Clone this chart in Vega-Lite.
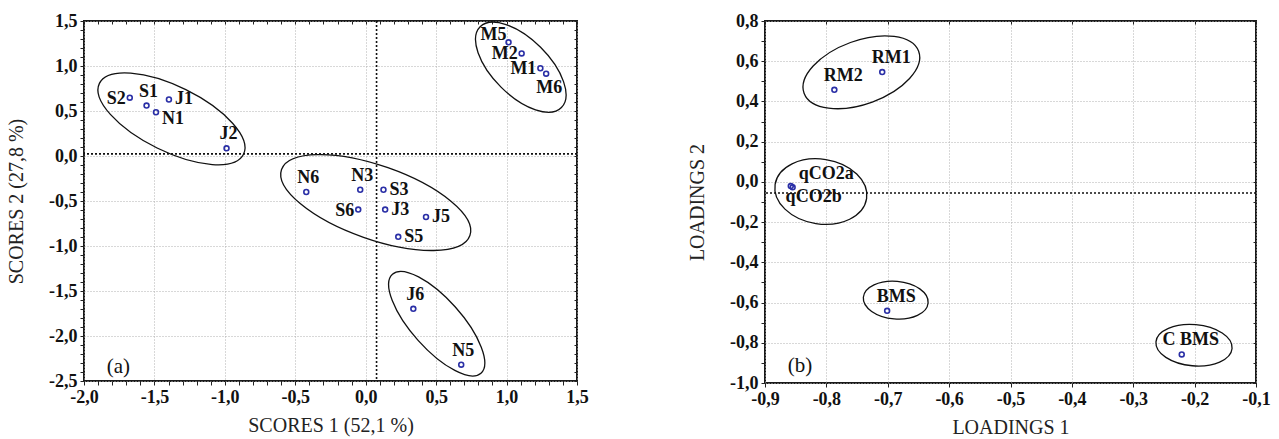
{
  "$schema": "https://vega.github.io/schema/vega-lite/v6.json",
  "padding": {"left": 5, "top": 11, "right": 5, "bottom": 0},
  "spacing": 96,
  "datasets": {
    "scores": [
      {"label": "S2", "x": -1.675, "y": 0.648},
      {"label": "S1", "x": -1.556, "y": 0.560},
      {"label": "J1", "x": -1.397, "y": 0.628},
      {"label": "N1", "x": -1.489, "y": 0.486},
      {"label": "J2", "x": -0.988, "y": 0.085},
      {"label": "M5", "x": 1.014, "y": 1.263},
      {"label": "M2", "x": 1.107, "y": 1.140},
      {"label": "M1", "x": 1.240, "y": 0.975},
      {"label": "M6", "x": 1.281, "y": 0.915},
      {"label": "N6", "x": -0.422, "y": -0.400},
      {"label": "N3", "x": -0.039, "y": -0.375},
      {"label": "S3", "x": 0.126, "y": -0.375},
      {"label": "S6", "x": -0.053, "y": -0.595},
      {"label": "J3", "x": 0.138, "y": -0.595},
      {"label": "J5", "x": 0.428, "y": -0.678},
      {"label": "S5", "x": 0.231, "y": -0.898},
      {"label": "J6", "x": 0.338, "y": -1.698},
      {"label": "N5", "x": 0.678, "y": -2.319}
    ],
    "loadings": [
      {"label": "RM1", "x": -0.709, "y": 0.546},
      {"label": "RM2", "x": -0.787, "y": 0.458},
      {"label": "qCO2a", "x": -0.858, "y": -0.021},
      {"label": "qCO2b", "x": -0.855, "y": -0.027},
      {"label": "BMS", "x": -0.701, "y": -0.641},
      {"label": "C BMS", "x": -0.221, "y": -0.858}
    ]
  },
  "hconcat": [
    {
      "width": 493,
      "height": 360,
      "resolve": {"axis": {"x": "independent", "y": "independent"}},
      "layer": [
        {
          "data": {"values": [{"cx": -1.379, "cy": 0.413}]},
          "mark": {"type": "point", "shape": "M1,0C1,0.224 0.552,0.405 0,0.405C-0.552,0.405 -1,0.224 -1,0C-1,-0.224 -0.552,-0.405 0,-0.405C0.552,-0.405 1,-0.224 1,0Z", "size": 25792, "angle": 26.2, "filled": false, "stroke": "#111", "strokeWidth": 1.3, "opacity": 1},
          "encoding": {"x": {"field": "cx", "type": "quantitative", "axis": null}, "y": {"field": "cy", "type": "quantitative", "axis": null}}
        },
        {
          "data": {"values": [{"cx": 1.101, "cy": 0.987}]},
          "mark": {"type": "point", "shape": "M1,0C1,0.271 0.552,0.49 0,0.49C-0.552,0.49 -1,0.271 -1,0C-1,-0.271 -0.552,-0.49 0,-0.49C0.552,-0.49 1,-0.271 1,0Z", "size": 13133, "angle": 44.8, "filled": false, "stroke": "#111", "strokeWidth": 1.3, "opacity": 1},
          "encoding": {"x": {"field": "cx", "type": "quantitative", "axis": null}, "y": {"field": "cy", "type": "quantitative", "axis": null}}
        },
        {
          "data": {"values": [{"cx": 0.071, "cy": -0.517}]},
          "mark": {"type": "point", "shape": "M1,0C1,0.204 0.552,0.37 0,0.37C-0.552,0.37 -1,0.204 -1,0C-1,-0.204 -0.552,-0.37 0,-0.37C0.552,-0.37 1,-0.204 1,0Z", "size": 39840, "angle": 19.3, "filled": false, "stroke": "#111", "strokeWidth": 1.3, "opacity": 1},
          "encoding": {"x": {"field": "cx", "type": "quantitative", "axis": null}, "y": {"field": "cy", "type": "quantitative", "axis": null}}
        },
        {
          "data": {"values": [{"cx": 0.504, "cy": -1.863}]},
          "mark": {"type": "point", "shape": "M1,0C1,0.208 0.552,0.376 0,0.376C-0.552,0.376 -1,0.208 -1,0C-1,-0.208 -0.552,-0.376 0,-0.376C0.552,-0.376 1,-0.208 1,0Z", "size": 17636, "angle": 48.2, "filled": false, "stroke": "#111", "strokeWidth": 1.3, "opacity": 1},
          "encoding": {"x": {"field": "cx", "type": "quantitative", "axis": null}, "y": {"field": "cy", "type": "quantitative", "axis": null}}
        },
        {
          "data": {"values": [{"xm": 0.077}]},
          "mark": {"type": "rule", "strokeDash": [2, 2], "strokeWidth": 1.6, "color": "#111"},
          "encoding": {"x": {"field": "xm", "type": "quantitative", "axis": {"orient": "top", "values": [-2,-1.9,-1.8,-1.7,-1.6,-1.5,-1.4,-1.3,-1.2,-1.1,-1,-0.9,-0.8,-0.7,-0.6,-0.5,-0.4,-0.3,-0.2,-0.1,0,0.1,0.2,0.3,0.4,0.5,0.6,0.7,0.8,0.9,1,1.1,1.2,1.3,1.4,1.5], "labels": false, "grid": false, "title": null, "tickSize": -3}}}
        },
        {
          "data": {"values": [{"ym": 0.024}]},
          "mark": {"type": "rule", "strokeDash": [2, 2], "strokeWidth": 1.6, "color": "#111"},
          "encoding": {"y": {"field": "ym", "type": "quantitative", "axis": {"orient": "right", "values": [-2.5,-2.4,-2.3,-2.2,-2.1,-2,-1.9,-1.8,-1.7,-1.6,-1.5,-1.4,-1.3,-1.2,-1.1,-1,-0.9,-0.8,-0.7,-0.6,-0.5,-0.4,-0.3,-0.2,-0.1,0,0.1,0.2,0.3,0.4,0.5,0.6,0.7,0.8,0.9,1,1.1,1.2,1.3,1.4,1.5], "labels": false, "grid": false, "title": null, "tickSize": -3}}}
        },
        {
          "data": {"name": "scores"},
          "mark": {"type": "point", "shape": "circle", "filled": false, "size": 24, "strokeWidth": 1.6, "color": "#2a2fa6", "opacity": 1},
          "encoding": {
            "x": {"field": "x", "type": "quantitative", "scale": {"domain": [-2, 1.5], "nice": false, "zero": false},
              "axis": {"orient": "bottom", "title": "SCORES 1 (52,1 %)", "values": [-2,-1.9,-1.8,-1.7,-1.6,-1.5,-1.4,-1.3,-1.2,-1.1,-1,-0.9,-0.8,-0.7,-0.6,-0.5,-0.4,-0.3,-0.2,-0.1,0,0.1,0.2,0.3,0.4,0.5,0.6,0.7,0.8,0.9,1,1.1,1.2,1.3,1.4,1.5],
                "labelExpr": "abs(round(datum.value*10))%5==0 ? replace(replace(format(datum.value,'.1f'),'.',','),'−','-') : ''",
                "grid": true, "gridOpacity": {"condition": {"test": "abs(round(datum.value*10))%5==0", "value": 1}, "value": 0},
                "tickSize": 4, "labelPadding": 3, "titlePadding": 9}},
            "y": {"field": "y", "type": "quantitative", "scale": {"domain": [-2.5, 1.5], "nice": false, "zero": false},
              "axis": {"orient": "left", "title": "SCORES 2 (27,8 %)", "values": [-2.5,-2.4,-2.3,-2.2,-2.1,-2,-1.9,-1.8,-1.7,-1.6,-1.5,-1.4,-1.3,-1.2,-1.1,-1,-0.9,-0.8,-0.7,-0.6,-0.5,-0.4,-0.3,-0.2,-0.1,0,0.1,0.2,0.3,0.4,0.5,0.6,0.7,0.8,0.9,1,1.1,1.2,1.3,1.4,1.5],
                "labelExpr": "abs(round(datum.value*10))%5==0 ? replace(replace(format(datum.value,'.1f'),'.',','),'−','-') : ''",
                "grid": true, "gridOpacity": {"condition": {"test": "abs(round(datum.value*10))%5==0", "value": 1}, "value": 0},
                "tickSize": 4, "labelPadding": 3, "titlePadding": 22}}
          }
        },
        {
          "data": {"name": "scores"},
          "transform": [{"filter": {"field": "label", "oneOf": ["S2", "M2", "M1", "S6"]}}],
          "mark": {"type": "text", "align": "right", "baseline": "middle", "dx": -4, "dy": 1},
          "encoding": {"x": {"field": "x", "type": "quantitative", "axis": null}, "y": {"field": "y", "type": "quantitative", "axis": null}, "text": {"field": "label"}}
        },
        {
          "data": {"name": "scores"},
          "transform": [{"filter": {"field": "label", "oneOf": ["M5"]}}],
          "mark": {"type": "text", "align": "right", "baseline": "middle", "dx": -2, "dy": -7},
          "encoding": {"x": {"field": "x", "type": "quantitative", "axis": null}, "y": {"field": "y", "type": "quantitative", "axis": null}, "text": {"field": "label"}}
        },
        {
          "data": {"name": "scores"},
          "transform": [{"filter": {"field": "label", "oneOf": ["J1", "S3", "J3", "J5", "S5"]}}],
          "mark": {"type": "text", "align": "left", "baseline": "middle", "dx": 6, "dy": 0},
          "encoding": {"x": {"field": "x", "type": "quantitative", "axis": null}, "y": {"field": "y", "type": "quantitative", "axis": null}, "text": {"field": "label"}}
        },
        {
          "data": {"name": "scores"},
          "transform": [{"filter": {"field": "label", "oneOf": ["N1"]}}],
          "mark": {"type": "text", "align": "left", "baseline": "middle", "dx": 6, "dy": 7},
          "encoding": {"x": {"field": "x", "type": "quantitative", "axis": null}, "y": {"field": "y", "type": "quantitative", "axis": null}, "text": {"field": "label"}}
        },
        {
          "data": {"name": "scores"},
          "transform": [{"filter": {"field": "label", "oneOf": ["S1", "J2", "N6", "N3", "J6", "N5"]}}],
          "mark": {"type": "text", "align": "center", "baseline": "middle", "dx": 2, "dy": -14},
          "encoding": {"x": {"field": "x", "type": "quantitative", "axis": null}, "y": {"field": "y", "type": "quantitative", "axis": null}, "text": {"field": "label"}}
        },
        {
          "data": {"name": "scores"},
          "transform": [{"filter": {"field": "label", "oneOf": ["M6"]}}],
          "mark": {"type": "text", "align": "center", "baseline": "middle", "dx": 3, "dy": 14},
          "encoding": {"x": {"field": "x", "type": "quantitative", "axis": null}, "y": {"field": "y", "type": "quantitative", "axis": null}, "text": {"field": "label"}}
        },
        {
          "data": {"values": [{"tag": "(a)", "x": -1.756, "y": -2.34}]},
          "mark": {"type": "text", "align": "center", "baseline": "middle", "fontWeight": "normal", "fontSize": 21},
          "encoding": {"x": {"field": "x", "type": "quantitative", "axis": null}, "y": {"field": "y", "type": "quantitative", "axis": null}, "text": {"field": "tag"}}
        }
      ]
    },
    {
      "width": 491,
      "height": 362,
      "resolve": {"axis": {"x": "independent", "y": "independent"}},
      "layer": [
        {
          "data": {"values": [{"cx": -0.743, "cy": 0.545}]},
          "mark": {"type": "point", "shape": "M1,0C1,0.287 0.552,0.52 0,0.52C-0.552,0.52 -1,0.287 -1,0C-1,-0.287 -0.552,-0.52 0,-0.52C0.552,-0.52 1,-0.287 1,0Z", "size": 14884, "angle": -20.1, "filled": false, "stroke": "#111", "strokeWidth": 1.3, "opacity": 1},
          "encoding": {"x": {"field": "cx", "type": "quantitative", "axis": {"orient": "top", "values": [-0.9,-0.8,-0.7,-0.6,-0.5,-0.4,-0.3,-0.2,-0.1], "labels": false, "grid": false, "title": null, "tickSize": -3}}, "y": {"field": "cy", "type": "quantitative", "axis": null}}
        },
        {
          "data": {"values": [{"cx": -0.809, "cy": -0.048}]},
          "mark": {"type": "point", "shape": "M1,0C1,0.387 0.552,0.7 0,0.7C-0.552,0.7 -1,0.387 -1,0C-1,-0.387 -0.552,-0.7 0,-0.7C0.552,-0.7 1,-0.387 1,0Z", "size": 8575, "angle": 8.9, "filled": false, "stroke": "#111", "strokeWidth": 1.3, "opacity": 1},
          "encoding": {"x": {"field": "cx", "type": "quantitative", "axis": null}, "y": {"field": "cy", "type": "quantitative", "axis": null}}
        },
        {
          "data": {"values": [{"cx": -0.687, "cy": -0.588}]},
          "mark": {"type": "point", "shape": "M1,0C1,0.32 0.552,0.58 0,0.58C-0.552,0.58 -1,0.32 -1,0C-1,-0.32 -0.552,-0.58 0,-0.58C0.552,-0.58 1,-0.32 1,0Z", "size": 4225, "angle": 5, "filled": false, "stroke": "#111", "strokeWidth": 1.3, "opacity": 1},
          "encoding": {"x": {"field": "cx", "type": "quantitative", "axis": null}, "y": {"field": "cy", "type": "quantitative", "axis": null}}
        },
        {
          "data": {"values": [{"cx": -0.201, "cy": -0.812}]},
          "mark": {"type": "point", "shape": "M1,0C1,0.298 0.552,0.54 0,0.54C-0.552,0.54 -1,0.298 -1,0C-1,-0.298 -0.552,-0.54 0,-0.54C0.552,-0.54 1,-0.298 1,0Z", "size": 5837, "angle": 5, "filled": false, "stroke": "#111", "strokeWidth": 1.3, "opacity": 1},
          "encoding": {"x": {"field": "cx", "type": "quantitative", "axis": null}, "y": {"field": "cy", "type": "quantitative", "axis": null}}
        },
        {
          "data": {"values": [{"ym": -0.055}]},
          "mark": {"type": "rule", "strokeDash": [2, 2], "strokeWidth": 1.6, "color": "#111"},
          "encoding": {"y": {"field": "ym", "type": "quantitative", "axis": {"orient": "right", "values": [-1,-0.9,-0.8,-0.7,-0.6,-0.5,-0.4,-0.3,-0.2,-0.1,0,0.1,0.2,0.3,0.4,0.5,0.6,0.7,0.8], "labels": false, "grid": false, "title": null, "tickSize": -3}}}
        },
        {
          "data": {"name": "loadings"},
          "mark": {"type": "point", "shape": "circle", "filled": false, "size": 24, "strokeWidth": 1.6, "color": "#2a2fa6", "opacity": 1},
          "encoding": {
            "x": {"field": "x", "type": "quantitative", "scale": {"domain": [-0.9, -0.1], "nice": false, "zero": false},
              "axis": {"orient": "bottom", "title": "LOADINGS 1", "values": [-0.9,-0.8,-0.7,-0.6,-0.5,-0.4,-0.3,-0.2,-0.1],
                "labelExpr": "replace(replace(format(datum.value,'.1f'),'.',','),'−','-')",
                "grid": true, "tickSize": 4, "labelPadding": 3, "titlePadding": 9}},
            "y": {"field": "y", "type": "quantitative", "scale": {"domain": [-1.0, 0.8], "nice": false, "zero": false},
              "axis": {"orient": "left", "title": "LOADINGS 2", "values": [-1,-0.9,-0.8,-0.7,-0.6,-0.5,-0.4,-0.3,-0.2,-0.1,0,0.1,0.2,0.3,0.4,0.5,0.6,0.7,0.8],
                "labelExpr": "abs(round(datum.value*10))%2==0 ? replace(replace(format(datum.value,'.1f'),'.',','),'−','-') : ''",
                "grid": true, "gridOpacity": {"condition": {"test": "abs(round(datum.value*10))%2==0", "value": 1}, "value": 0},
                "tickSize": 4, "labelPadding": 3, "titlePadding": 22}}
          }
        },
        {
          "data": {"name": "loadings"},
          "transform": [{"filter": {"field": "label", "oneOf": ["RM1", "RM2", "BMS", "C BMS"]}}],
          "mark": {"type": "text", "align": "center", "baseline": "middle", "dx": 9, "dy": -14},
          "encoding": {"x": {"field": "x", "type": "quantitative", "axis": null}, "y": {"field": "y", "type": "quantitative", "axis": null}, "text": {"field": "label"}}
        },
        {
          "data": {"name": "loadings"},
          "transform": [{"filter": {"field": "label", "oneOf": ["qCO2a"]}}],
          "mark": {"type": "text", "align": "left", "baseline": "middle", "dx": 8, "dy": -12},
          "encoding": {"x": {"field": "x", "type": "quantitative", "axis": null}, "y": {"field": "y", "type": "quantitative", "axis": null}, "text": {"field": "label"}}
        },
        {
          "data": {"name": "loadings"},
          "transform": [{"filter": {"field": "label", "oneOf": ["qCO2b"]}}],
          "mark": {"type": "text", "align": "left", "baseline": "middle", "dx": -7, "dy": 10},
          "encoding": {"x": {"field": "x", "type": "quantitative", "axis": null}, "y": {"field": "y", "type": "quantitative", "axis": null}, "text": {"field": "label"}}
        },
        {
          "data": {"values": [{"tag": "(b)", "x": -0.843, "y": -0.916}]},
          "mark": {"type": "text", "align": "center", "baseline": "middle", "fontWeight": "normal", "fontSize": 21},
          "encoding": {"x": {"field": "x", "type": "quantitative", "axis": null}, "y": {"field": "y", "type": "quantitative", "axis": null}, "text": {"field": "tag"}}
        }
      ]
    }
  ],
  "config": {
    "view": {"stroke": "#1a1a1a", "strokeWidth": 2},
    "font": "Liberation Serif",
    "axis": {
      "labelFont": "Liberation Serif", "labelFontSize": 18, "labelFontWeight": "bold", "labelColor": "#111",
      "titleFont": "Liberation Serif", "titleFontSize": 20, "titleFontWeight": "normal", "titleColor": "#222",
      "domain": false, "tickColor": "#222", "tickWidth": 1,
      "gridColor": "#b0b0b0", "gridDash": [1, 2], "gridWidth": 1,
      "labelOverlap": false, "labelFlush": false, "labelBound": false
    },
    "text": {"font": "Liberation Serif", "fontSize": 18, "fontWeight": "bold", "color": "#111"}
  }
}
